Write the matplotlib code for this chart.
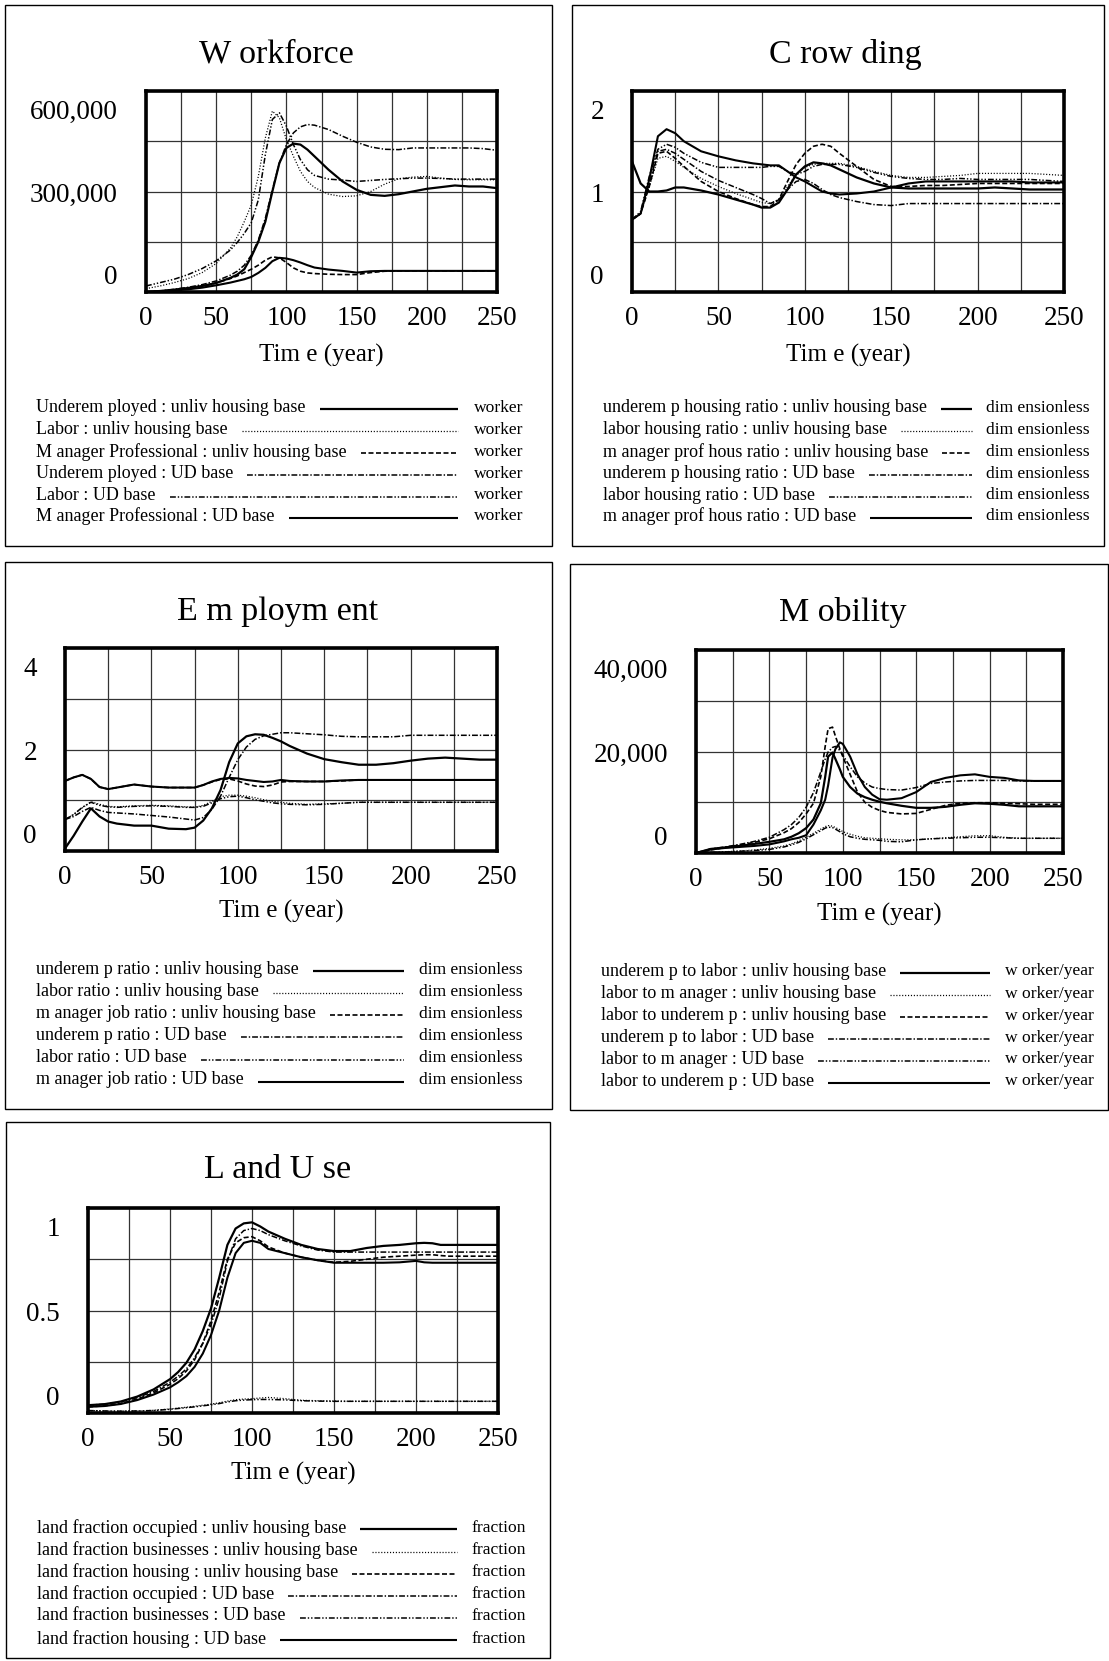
import numpy as np
import matplotlib
matplotlib.use("Agg")
import matplotlib.pyplot as plt
from matplotlib.lines import Line2D
from matplotlib.patches import Rectangle

plt.rcParams['font.family'] = ['Liberation Serif', 'DejaVu Serif']
plt.rcParams['lines.scale_dashes'] = False

W, H = 1109, 1661

# ---------------- data ----------------
# Workforce (thousand workers)
wf_years = [0, 10, 20, 30, 40, 50, 60, 65, 70, 75, 80, 85, 90, 95, 100, 105, 110, 115, 120,
            130, 140, 150, 160, 170, 180, 190, 200, 210, 220, 230, 240, 250]
wf_underemp_unliv_k = [0, 3, 7, 12, 18, 27, 42, 52, 68, 105, 150, 210, 300, 385, 430, 443, 440, 425, 405,
                       365, 330, 305, 290, 287, 292, 300, 308, 313, 318, 315, 315, 310]
wf_labor_unliv_k = [10, 18, 28, 40, 58, 85, 130, 165, 210, 260, 345, 460, 540, 520, 455, 405, 360, 330, 312,
                    292, 285, 287, 300, 322, 338, 343, 345, 340, 336, 335, 335, 335]
wf_manager_unliv_k = [0, 2, 5, 10, 16, 27, 40, 48, 58, 68, 80, 95, 105, 102, 88, 72, 62, 57, 55,
                      53, 52, 52, 58, 62, 63, 63, 63, 63, 63, 63, 63, 63]
wf_underemp_ud_k = [0, 3, 8, 14, 22, 33, 50, 62, 80, 110, 155, 220, 305, 385, 440, 475, 493, 500, 498,
                    485, 465, 447, 433, 426, 425, 430, 430, 430, 430, 430, 428, 423]
wf_labor_ud_k = [18, 28, 38, 52, 70, 93, 125, 148, 175, 207, 275, 410, 515, 535, 495, 440, 395, 365, 348,
                 337, 334, 330, 333, 336, 338, 340, 340, 339, 337, 337, 337, 337]
wf_manager_ud_k = [0, 2, 5, 8, 13, 20, 28, 33, 38, 45, 57, 72, 92, 102, 100, 95, 88, 80, 73,
                   67, 63, 58, 62, 63, 63, 63, 63, 63, 63, 63, 63, 63]

# Crowding (dimensionless)
cr_years = [0, 5, 10, 15, 20, 25, 30, 40, 50, 60, 70, 75, 80, 85, 90, 95, 100, 105, 110, 115, 120,
            130, 140, 150, 160, 170, 180, 190, 200, 210, 220, 230, 240, 250]
cr_underemp_unliv = [1.30, 1.08, 1.00, 1.00, 1.01, 1.04, 1.04, 1.01, 0.97, 0.92, 0.87, 0.84, 0.84, 0.89, 1.02,
                     1.17, 1.25, 1.29, 1.28, 1.26, 1.22, 1.14, 1.08, 1.04, 1.03, 1.03, 1.03, 1.03, 1.03, 1.04,
                     1.03, 1.02, 1.02, 1.02]
cr_labor_unliv = [0.72, 0.78, 1.05, 1.33, 1.35, 1.30, 1.24, 1.13, 1.05, 0.98, 0.92, 0.89, 0.88, 0.92, 1.05,
                  1.17, 1.24, 1.27, 1.28, 1.28, 1.28, 1.25, 1.20, 1.16, 1.14, 1.14, 1.15, 1.16, 1.18, 1.18,
                  1.18, 1.18, 1.17, 1.16]
cr_manager_unliv = [0.72, 0.78, 1.05, 1.38, 1.40, 1.33, 1.25, 1.10, 1.00, 0.93, 0.87, 0.85, 0.85, 0.92, 1.10,
                    1.27, 1.38, 1.45, 1.47, 1.45, 1.38, 1.25, 1.12, 1.05, 1.05, 1.06, 1.06, 1.07, 1.08, 1.08,
                    1.08, 1.08, 1.08, 1.08]
cr_underemp_ud = [0.72, 0.78, 1.08, 1.40, 1.42, 1.38, 1.32, 1.20, 1.11, 1.04, 0.97, 0.93, 0.88, 0.92, 1.02,
                  1.10, 1.12, 1.08, 1.02, 0.97, 0.94, 0.90, 0.87, 0.86, 0.88, 0.88, 0.88, 0.88, 0.88, 0.88,
                  0.88, 0.88, 0.88, 0.88]
cr_labor_ud = [0.72, 0.80, 1.15, 1.42, 1.47, 1.44, 1.38, 1.29, 1.24, 1.24, 1.24, 1.24, 1.25, 1.25, 1.20,
               1.17, 1.20, 1.25, 1.27, 1.27, 1.27, 1.24, 1.19, 1.15, 1.13, 1.12, 1.12, 1.13, 1.12, 1.12,
               1.12, 1.12, 1.11, 1.10]
cr_manager_ud = [0.72, 0.78, 1.12, 1.55, 1.62, 1.58, 1.50, 1.40, 1.35, 1.31, 1.28, 1.27, 1.26, 1.26, 1.20,
                 1.14, 1.10, 1.05, 1.00, 0.98, 0.97, 0.98, 1.00, 1.04, 1.08, 1.10, 1.10, 1.10, 1.10, 1.10,
                 1.10, 1.09, 1.09, 1.09]

# Employment (dimensionless)
em_years = [0, 5, 10, 15, 20, 25, 30, 40, 50, 60, 70, 75, 80, 85, 90, 95, 100, 105, 110, 115, 120, 125,
            130, 140, 150, 160, 170, 180, 190, 200, 210, 220, 230, 240, 250]
em_underemp_unliv = [0.05, 0.30, 0.58, 0.84, 0.68, 0.58, 0.54, 0.50, 0.50, 0.44, 0.43, 0.46, 0.60, 0.84, 1.20,
                     1.75, 2.12, 2.26, 2.30, 2.29, 2.23, 2.16, 2.07, 1.92, 1.81, 1.75, 1.70, 1.70, 1.73, 1.78,
                     1.82, 1.84, 1.82, 1.80, 1.80]
em_labor_unliv = [0.62, 0.72, 0.85, 0.97, 0.92, 0.88, 0.87, 0.89, 0.90, 0.89, 0.87, 0.86, 0.90, 0.98, 1.07,
                  1.10, 1.10, 1.08, 1.05, 1.01, 0.98, 0.96, 0.94, 0.92, 0.93, 0.94, 0.96, 0.96, 0.96, 0.96,
                  0.96, 0.96, 0.96, 0.96, 0.96]
em_manager_unliv = [1.38, 1.45, 1.50, 1.42, 1.26, 1.22, 1.25, 1.31, 1.27, 1.25, 1.25, 1.25, 1.30, 1.36, 1.41,
                    1.42, 1.38, 1.32, 1.28, 1.27, 1.30, 1.36, 1.37, 1.37, 1.37, 1.38, 1.40, 1.40, 1.40, 1.40,
                    1.40, 1.40, 1.40, 1.40, 1.40]
em_underemp_ud = [0.62, 0.68, 0.78, 0.86, 0.80, 0.76, 0.75, 0.73, 0.70, 0.67, 0.63, 0.61, 0.66, 0.82, 1.08,
                  1.45, 1.80, 2.05, 2.20, 2.27, 2.30, 2.33, 2.33, 2.31, 2.29, 2.26, 2.25, 2.25, 2.25, 2.28,
                  2.28, 2.28, 2.28, 2.28, 2.28]
em_labor_ud = [0.62, 0.72, 0.86, 0.96, 0.90, 0.87, 0.86, 0.88, 0.89, 0.88, 0.86, 0.86, 0.88, 0.95, 1.03,
               1.07, 1.08, 1.05, 1.01, 0.98, 0.95, 0.93, 0.92, 0.91, 0.92, 0.94, 0.96, 0.96, 0.96, 0.96,
               0.96, 0.96, 0.96, 0.96, 0.96]
em_manager_ud = [1.38, 1.45, 1.50, 1.42, 1.26, 1.22, 1.25, 1.31, 1.27, 1.25, 1.25, 1.25, 1.30, 1.37, 1.42,
                 1.44, 1.43, 1.40, 1.38, 1.36, 1.37, 1.40, 1.38, 1.37, 1.37, 1.39, 1.40, 1.40, 1.40, 1.40,
                 1.40, 1.40, 1.40, 1.40, 1.40]

# Mobility (thousand workers/year)
mo_years = [0, 10, 20, 30, 40, 50, 60, 65, 70, 75, 80, 85, 88, 90, 93, 95, 98, 100, 105, 110, 115, 120,
            125, 130, 140, 150, 160, 170, 180, 190, 200, 210, 220, 230, 240, 250]
mo_underemp_labor_unliv_k = [0, 0.8, 1.1, 1.4, 1.8, 2.2, 2.7, 3.2, 3.9, 4.9, 6.6, 9.8, 15, 19, 19.8, 18.5,
                             16.5, 15, 13, 11.7, 11, 10.5, 10.1, 9.8, 9.3, 8.9, 8.9, 9.1, 9.5, 9.8, 9.7, 9.5,
                             9.2, 9.2, 9.2, 9.2]
mo_labor_manager_unliv_k = [0, 0.1, 0.25, 0.4, 0.6, 0.9, 1.4, 1.8, 2.4, 3.1, 3.9, 4.7, 5.2, 5.4, 5.3, 5.0,
                            4.6, 4.2, 3.7, 3.3, 3.0, 2.9, 2.8, 2.7, 2.6, 2.6, 2.8, 3.0, 3.2, 3.4, 3.4, 3.1,
                            2.9, 2.9, 2.9, 2.9]
mo_labor_underemp_unliv_k = [0, 0.6, 1.1, 1.6, 2.1, 2.8, 4.0, 4.8, 6.0, 7.7, 9.8, 15, 21, 24.5, 24.8, 23,
                             20.5, 19, 15.5, 12, 10, 9, 8.4, 8.0, 7.7, 7.8, 8.6, 9.4, 9.8, 9.9, 9.9, 9.8,
                             9.7, 9.6, 9.6, 9.6]
mo_underemp_labor_ud_k = [0, 0.8, 1.2, 1.7, 2.3, 3.1, 4.6, 5.6, 7.0, 9.0, 11.9, 16, 18.5, 19.9, 20.8, 21,
                          20.2, 19.3, 17, 15, 13.8, 13, 12.7, 12.5, 12.4, 12.9, 13.7, 14.0, 14.2, 14.3, 14.3,
                          14.3, 14.2, 14.2, 14.2, 14.2]
mo_labor_manager_ud_k = [0, 0.1, 0.2, 0.35, 0.5, 0.7, 1.2, 1.6, 2.1, 2.8, 3.6, 4.4, 4.9, 5.1, 5.0, 4.7,
                         4.2, 3.8, 3.2, 2.9, 2.7, 2.6, 2.5, 2.3, 2.2, 2.6, 2.8, 2.9, 3.0, 3.1, 3.1, 3.0,
                         2.9, 2.9, 2.9, 2.9]
mo_labor_underemp_ud_k = [0, 0.7, 1.0, 1.2, 1.4, 1.7, 2.3, 2.7, 3.0, 3.5, 5.6, 8.4, 10.5, 13.3, 18.8, 20.5,
                          21.8, 21.5, 19, 15.5, 13, 11.5, 10.6, 10.5, 10.8, 12, 14, 14.8, 15.3, 15.5, 15.0,
                          14.8, 14.3, 14.2, 14.2, 14.2]

# Land use (fraction)
lu_years = [0, 10, 20, 30, 40, 50, 55, 60, 65, 70, 75, 80, 85, 90, 95, 100, 105, 110, 120, 130, 140,
            150, 160, 170, 180, 190, 200, 205, 210, 215, 220, 230, 240, 250]
lu_occupied_unliv = [0.038, 0.043, 0.056, 0.080, 0.115, 0.165, 0.20, 0.245, 0.31, 0.40, 0.51, 0.66, 0.82, 0.90,
                     0.925, 0.93, 0.91, 0.885, 0.85, 0.82, 0.80, 0.79, 0.79, 0.805, 0.815, 0.82, 0.828, 0.83,
                     0.828, 0.82, 0.82, 0.82, 0.82, 0.82]
lu_business_unliv = [0.012, 0.010, 0.009, 0.010, 0.013, 0.020, 0.024, 0.028, 0.033, 0.038, 0.043, 0.050,
                     0.058, 0.065, 0.068, 0.070, 0.073, 0.076, 0.070, 0.062, 0.060, 0.058, 0.057, 0.057,
                     0.057, 0.057, 0.057, 0.057, 0.057, 0.057, 0.057, 0.057, 0.057, 0.057]
lu_housing_unliv = [0.030, 0.035, 0.046, 0.068, 0.098, 0.14, 0.168, 0.205, 0.26, 0.34, 0.45, 0.59, 0.75, 0.83,
                    0.855, 0.86, 0.84, 0.81, 0.78, 0.76, 0.745, 0.735, 0.74, 0.75, 0.76, 0.765, 0.77, 0.772,
                    0.772, 0.768, 0.765, 0.765, 0.765, 0.765]
lu_occupied_ud = [0.038, 0.043, 0.054, 0.075, 0.105, 0.15, 0.18, 0.215, 0.27, 0.34, 0.43, 0.56, 0.74, 0.85,
                  0.89, 0.90, 0.89, 0.87, 0.84, 0.815, 0.795, 0.785, 0.785, 0.785, 0.785, 0.785, 0.785,
                  0.785, 0.785, 0.785, 0.785, 0.785, 0.785, 0.785]
lu_business_ud = [0.012, 0.010, 0.009, 0.010, 0.012, 0.018, 0.022, 0.026, 0.030, 0.035, 0.040, 0.046, 0.054,
                  0.060, 0.063, 0.065, 0.066, 0.066, 0.064, 0.060, 0.058, 0.057, 0.057, 0.057, 0.057, 0.057,
                  0.057, 0.057, 0.057, 0.057, 0.057, 0.057, 0.057, 0.057]
lu_housing_ud = [0.030, 0.034, 0.044, 0.063, 0.090, 0.125, 0.150, 0.18, 0.225, 0.29, 0.38, 0.50, 0.66, 0.78,
                 0.83, 0.84, 0.83, 0.80, 0.78, 0.76, 0.745, 0.733, 0.733, 0.733, 0.733, 0.735, 0.742, 0.735,
                 0.733, 0.733, 0.733, 0.733, 0.733, 0.733]

# legend texts
wf_names = ["Underem ployed : unliv housing base", "Labor : unliv housing base",
            "M anager Professional : unliv housing base", "Underem ployed : UD base",
            "Labor : UD base", "M anager Professional : UD base"]
cr_names = ["underem p housing ratio : unliv housing base", "labor housing ratio : unliv housing base",
            "m anager prof hous ratio : unliv housing base", "underem p housing ratio : UD base",
            "labor housing ratio : UD base", "m anager prof hous ratio : UD base"]
em_names = ["underem p ratio : unliv housing base", "labor ratio : unliv housing base",
            "m anager job ratio : unliv housing base", "underem p ratio : UD base",
            "labor ratio : UD base", "m anager job ratio : UD base"]
mo_names = ["underem p to labor : unliv housing base", "labor to m anager : unliv housing base",
            "labor to underem p : unliv housing base", "underem p to labor : UD base",
            "labor to m anager : UD base", "labor to underem p : UD base"]
lu_names = ["land fraction occupied : unliv housing base", "land fraction businesses : unliv housing base",
            "land fraction housing : unliv housing base", "land fraction occupied : UD base",
            "land fraction businesses : UD base", "land fraction housing : UD base"]

# ---------------- styling / layout ----------------
STYLES = [
    dict(color='black', lw=1.6, ls='-'),
    dict(color='black', lw=0.9, ls=(0, (0.8, 1.3))),
    dict(color='black', lw=1.2, ls=(0, (3.6, 1.8))),
    dict(color='black', lw=1.1, ls=(0, (4.2, 1.4, 1.0, 1.4))),
    dict(color='black', lw=1.1, ls=(0, (4.2, 1.4, 1.0, 1.4, 1.0, 1.4))),
    dict(color='black', lw=1.5, ls='-'),
]

def fx(x):
    return x / W

def fy(y):
    return 1 - y / H

k = 1000.0
panels = [
    dict(title="W orkforce", years=wf_years,
         series=[np.array(s) * k for s in (wf_underemp_unliv_k, wf_labor_unliv_k, wf_manager_unliv_k,
                                           wf_underemp_ud_k, wf_labor_ud_k, wf_manager_ud_k)],
         names=wf_names, unit="worker", ymax=600000, ylabels=["0", "300,000", "600,000"],
         box=(5, 5, 552, 546), ax=(146, 91, 497, 292), title_xy=(276, 54), xlab_dy=63,
         leg_x=36, rows=[407.6, 429.5, 451.8, 473.8, 495, 516.3], line_end=458, unit_x=474),
    dict(title="C row ding", years=cr_years,
         series=[np.array(s) for s in (cr_underemp_unliv, cr_labor_unliv, cr_manager_unliv,
                                       cr_underemp_ud, cr_labor_ud, cr_manager_ud)],
         names=cr_names, unit="dim ensionless", ymax=2, ylabels=["0", "1", "2"],
         box=(572, 5, 1104, 546), ax=(632, 91, 1064, 292), title_xy=(845, 54), xlab_dy=63,
         leg_x=603, rows=[407.6, 429.5, 451.8, 473.8, 495, 516.3], line_end=972, unit_x=986),
    dict(title="E m ploym ent", years=em_years,
         series=[np.array(s) for s in (em_underemp_unliv, em_labor_unliv, em_manager_unliv,
                                       em_underemp_ud, em_labor_ud, em_manager_ud)],
         names=em_names, unit="dim ensionless", ymax=4, ylabels=["0", "2", "4"],
         box=(5, 562, 552, 1109), ax=(65, 648, 497, 851), title_xy=(278, 612), xlab_dy=60,
         leg_x=36, rows=[969.6, 991.6, 1013.9, 1035.8, 1058, 1080], line_end=403.5, unit_x=419),
    dict(title="M obility", years=mo_years,
         series=[np.array(s) * k for s in (mo_underemp_labor_unliv_k, mo_labor_manager_unliv_k,
                                           mo_labor_underemp_unliv_k, mo_underemp_labor_ud_k,
                                           mo_labor_manager_ud_k, mo_labor_underemp_ud_k)],
         names=mo_names, unit="w orker/year", ymax=40000, ylabels=["0", "20,000", "40,000"],
         box=(570, 564, 1108, 1110), ax=(696, 650, 1063, 853), title_xy=(843, 613), xlab_dy=61,
         leg_x=601, rows=[971, 993.7, 1015.6, 1037.6, 1059, 1081], line_end=990, unit_x=1004.6),
    dict(title="L and U se", years=lu_years,
         series=[np.array(s) for s in (lu_occupied_unliv, lu_business_unliv, lu_housing_unliv,
                                       lu_occupied_ud, lu_business_ud, lu_housing_ud)],
         names=lu_names, unit="fraction", ymax=1, ylabels=["0", "0.5", "1"],
         box=(6, 1122, 550, 1658), ax=(88, 1208, 498, 1413), title_xy=(278, 1170), xlab_dy=60,
         leg_x=37, rows=[1527.8, 1550, 1572, 1594, 1616, 1638.6], line_end=456.6, unit_x=472),
]

fig = plt.figure(figsize=(W / 100, H / 100), dpi=100)
fig.patch.set_facecolor('white')

legend_texts = []
for p in panels:
    x0, y0, x1, y1 = p['box']
    fig.add_artist(Rectangle((fx(x0), fy(y1)), (x1 - x0) / W, (y1 - y0) / H,
                             transform=fig.transFigure, fill=False, lw=1.0, ec='black'))
    a0, b0, a1, b1 = p['ax']
    ax = fig.add_axes([fx(a0), fy(b1), (a1 - a0) / W, (b1 - b0) / H])
    for vals, st in zip(p['series'], STYLES):
        ax.plot(p['years'], vals, color=st['color'], lw=st['lw'], ls=st['ls'], zorder=3,
                solid_capstyle='butt', clip_on=True)
    ax.set_xlim(0, 250)
    ax.set_ylim(0, p['ymax'])
    ax.set_xticks(range(0, 251, 50))
    ax.set_xticks(range(25, 251, 50), minor=True)
    ax.set_yticks(np.linspace(0, p['ymax'], 5))
    ax.set_yticklabels([])
    ax.tick_params(which='both', length=0)
    ax.tick_params(axis='x', labelsize=19.5, pad=10)
    ax.grid(which='both', color='#333333', lw=0.9)
    ax.set_axisbelow(True)
    for sp in ax.spines.values():
        sp.set_linewidth(2.6)
    # y labels at bottom, middle and top of the axis (kept inside the axis height)
    yvals = [0, p['ymax'] / 2, p['ymax']]
    dys = [10.3, -2.7, -15.6]
    for lab, yv, dy in zip(p['ylabels'], yvals, dys):
        ax.annotate(lab, xy=(0, yv), xycoords=('axes fraction', 'data'), xytext=(-20.2, dy),
                    textcoords='offset points', ha='right', va='center', fontsize=19.5)
    fig.text(fx((a0 + a1) / 2), fy(b1 + p['xlab_dy']), "Tim e (year)", ha='center', va='center',
             fontsize=18)
    fig.text(fx(p['title_xy'][0]), fy(p['title_xy'][1]), p['title'], ha='center', va='center',
             fontsize=24.5)
    for name, ry, st in zip(p['names'], p['rows'], STYLES):
        t = fig.text(fx(p['leg_x']), fy(ry), name, ha='left', va='center', fontsize=13)
        fig.text(fx(p['unit_x']), fy(ry), p['unit'], ha='left', va='center', fontsize=12.6)
        legend_texts.append((t, ry, p['line_end'], st))

fig.canvas.draw()
renderer = fig.canvas.get_renderer()
for t, ry, xend, st in legend_texts:
    bb = t.get_window_extent(renderer)
    xstart = bb.x1 + 14
    ly = fy(ry) - 1.5 / H
    fig.add_artist(Line2D([fx(xstart), fx(xend)], [ly, ly], transform=fig.transFigure,
                          color=st['color'], lw=st['lw'], ls=st['ls'], solid_capstyle='butt'))

fig.savefig('out.png', dpi=100)
